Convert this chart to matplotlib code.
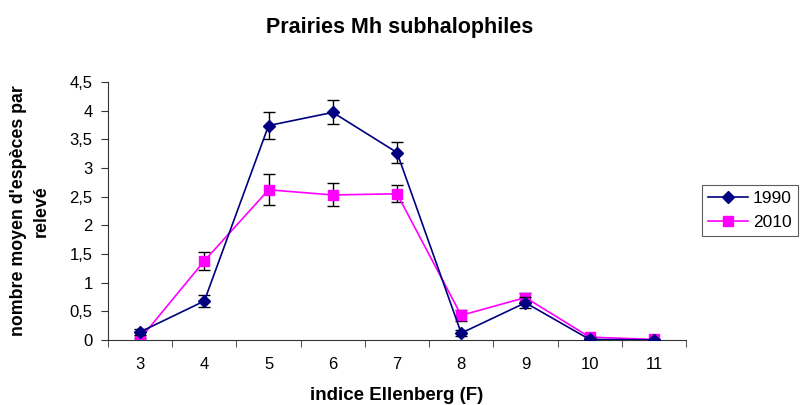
import numpy as np
import matplotlib
matplotlib.use('Agg')
import matplotlib.pyplot as plt
from matplotlib.ticker import FuncFormatter, FixedLocator
from matplotlib.lines import Line2D

plt.rcParams['font.family'] = ['Liberation Sans', 'DejaVu Sans']

# indice Ellenberg (F)
categories = [3, 4, 5, 6, 7, 8, 9, 10, 11]
vals_1990 = [0.14, 0.68, 3.74, 3.97, 3.27, 0.12, 0.65, 0.01, 0.0]
err_1990 = [0.05, 0.11, 0.23, 0.21, 0.19, 0.05, 0.10, 0.02, 0.0]
vals_2010 = [0.02, 1.38, 2.62, 2.53, 2.55, 0.43, 0.74, 0.05, 0.01]
err_2010 = [0.02, 0.16, 0.27, 0.20, 0.15, 0.09, 0.08, 0.02, 0.0]
series_names = ['1990', '2010']

navy = '#000080'
magenta = '#FF00FF'

fig = plt.figure(figsize=(8, 4.05), dpi=100)
ax = fig.add_axes([0.135, 0.1605, 0.7225, 0.637])  # [left, bottom, width, height]

ax.errorbar(categories, vals_1990, yerr=err_1990, color=navy, marker='D',
            markersize=6.5, linewidth=1.2, ecolor='black', elinewidth=1,
            capsize=4, capthick=1, zorder=3)
ax.errorbar(categories, vals_2010, yerr=err_2010, color=magenta, marker='s',
            markersize=7, linewidth=1.2, ecolor='black', elinewidth=1,
            capsize=4, capthick=1, zorder=2)

ax.set_xlim(2.5, 11.5)
ax.set_ylim(0, 4.5)
ax.set_xticks(categories)
ax.set_xticklabels([str(c) for c in categories])
ax.xaxis.set_minor_locator(FixedLocator(np.arange(2.5, 11.6, 1)))
ax.tick_params(axis='x', which='major', length=0, pad=12, labelsize=12)
ax.tick_params(axis='x', which='minor', length=5, direction='out', color='#333333')
ax.set_yticks(np.arange(0, 4.51, 0.5))
ax.yaxis.set_major_formatter(FuncFormatter(lambda v, p: ('%g' % v).replace('.', ',')))
ax.tick_params(axis='y', length=5, direction='out', labelsize=12, pad=6, color='#333333')

for s in ['top', 'right']:
    ax.spines[s].set_visible(False)
for s in ['left', 'bottom']:
    ax.spines[s].set_color('#333333')

ax.set_xlabel('indice Ellenberg (F)', fontsize=13.5, fontweight='bold', labelpad=11)
ax.set_ylabel("nombre moyen d'espèces par\nrelevé", fontsize=12.8, fontweight='bold',
              labelpad=14, linespacing=1.5)
fig.text(0.5, 0.932, 'Prairies Mh subhalophiles', ha='center', va='center',
         fontsize=15.5, fontweight='bold')

# legend handles without the error bars
h = [Line2D([], [], color=navy, marker='D', markersize=6.5, linewidth=1.2),
     Line2D([], [], color=magenta, marker='s', markersize=7, linewidth=1.2)]
leg = fig.legend(h, series_names, loc='center left', bbox_to_anchor=(0.877, 0.481),
                 frameon=True, fancybox=False, edgecolor='#333333', fontsize=12.5,
                 handlelength=2.3, borderpad=0.35, labelspacing=0.5, handletextpad=0.3,
                 borderaxespad=0)
leg.get_frame().set_linewidth(0.8)

plt.savefig('out.png', dpi=100)
